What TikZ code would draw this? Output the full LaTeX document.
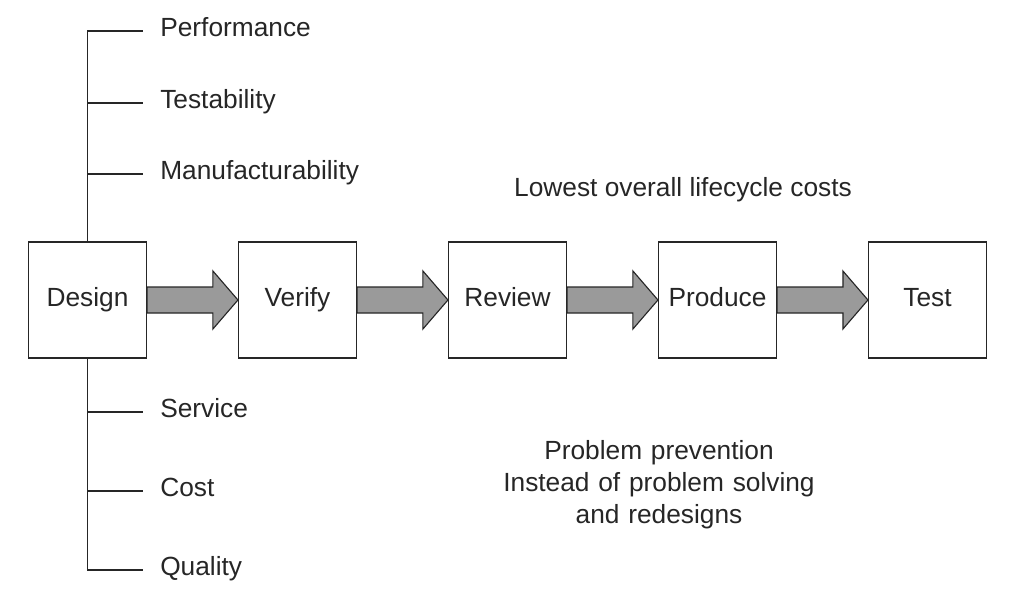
\documentclass[tikz,border=0pt]{standalone}
\usepackage{fontspec}
\setmainfont{Liberation Sans}
\usetikzlibrary{calc}
\usetikzlibrary{positioning}

\definecolor{ink}{HTML}{262626}
\definecolor{shaft}{HTML}{9A9A9A}

\tikzset{
  stage/.style={draw=ink, line width=0.8pt, fill=white, minimum width=2.95cm,
    minimum height=2.9cm, inner sep=0pt, text=ink, text height=0.91em, text depth=0pt},
  factor/.style={anchor=west, inner sep=0pt, text=ink, text height=0.82em, text depth=0pt},
  branch/.style={draw=ink, line width=0.8pt, shorten >=0.425cm},
  fatarrow/.style={draw=ink, line width=0.8pt, fill=shaft, line join=miter},
  note/.style={text=ink, align=center, inner sep=0pt}
}

\begin{document}
\begin{tikzpicture}[x=0.025cm, y=-0.025cm, font=\fontsize{18.7}{23}\selectfont]
  \useasboundingbox (0,0) rectangle (1010,597);

  % stages
  \foreach \n/\lab [count=\i] in {des/Design, ver/Verify, rev/Review, pro/Produce, tst/Test} {
    \node[stage] (\n) at (87.5+210*\i-210, 300) {\lab};
  }

  % big arrows between stages
  \foreach \a/\b in {des/ver, ver/rev, rev/pro, pro/tst} {
    \draw[fatarrow] ($(\a.east)+(0,-13)$) -- ($(\b.west)+(-25,-13)$)
      -- ($(\b.west)+(-25,-29)$) -- (\b.west) -- ($(\b.west)+(-25,29)$)
      -- ($(\b.west)+(-25,13)$) -- ($(\a.east)+(0,13)$) -- cycle;
  }

  % design factors
  \foreach \n/\lab/\y in {perf/Performance/31, test/Testability/103, manu/Manufacturability/174} {
    \node[factor] (\n) at (160,\y) {\lab};
    \draw[branch] (des.north) |- (\n.west);
  }
  \foreach \n/\lab/\y in {serv/Service/412, cost/Cost/491, qual/Quality/570} {
    \node[factor] (\n) at (160,\y) {\lab};
    \draw[branch] (des.south) |- (\n.west);
  }

  \node[note] (low) at (683,190) {Lowest overall lifecycle costs};
  \node[note, text width=9cm] (prev) at (659,485)
    {\fontsize{18.7}{22.7}\selectfont Problem prevention\\Instead of problem solving\\and redesigns};
\end{tikzpicture}
\end{document}
